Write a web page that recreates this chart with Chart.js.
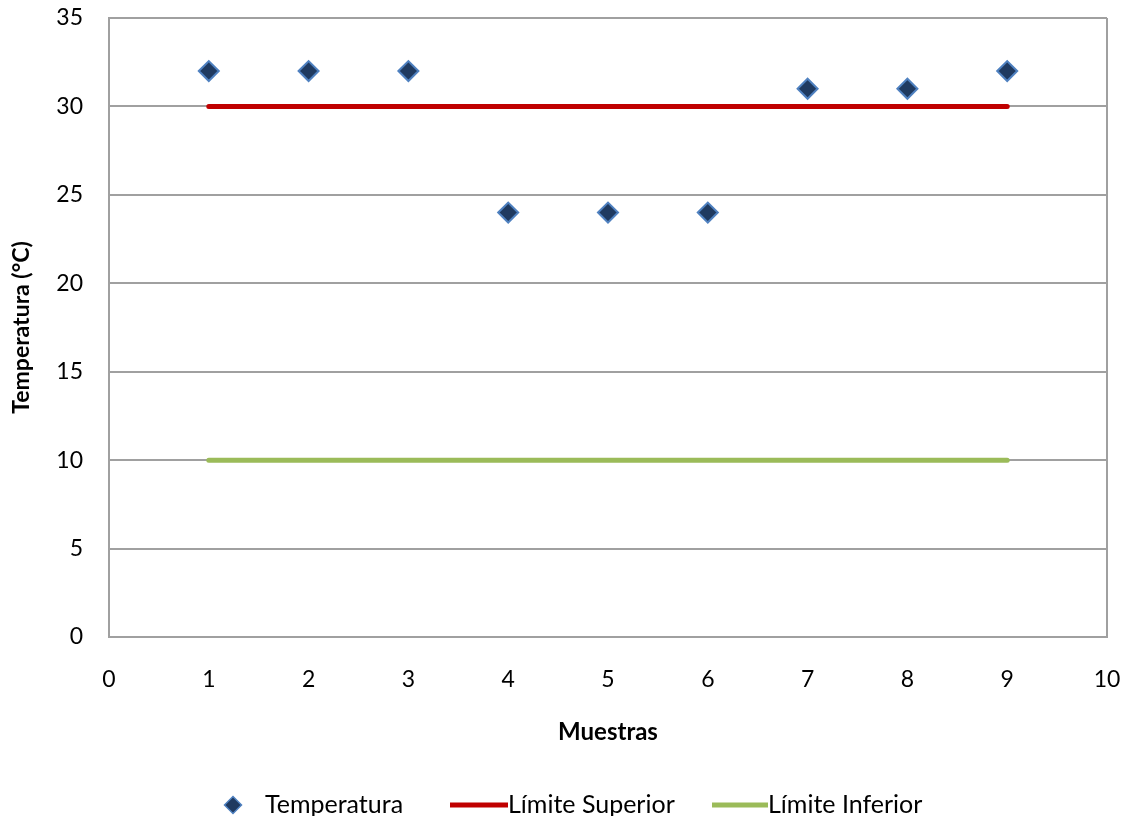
<!DOCTYPE html>
<html>
<head>
<meta charset="utf-8">
<script src="https://cdn.jsdelivr.net/npm/chart.js@4"></script>
<style>
  html, body { margin: 0; padding: 0; background: #ffffff; }
  #wrap { width: 1125px; height: 816px; }
</style>
</head>
<body>
<div id="wrap"><canvas id="chart" width="1125" height="816"></canvas></div>
<script>
// Temperature samples against upper and lower limits
const muestras = [1, 2, 3, 4, 5, 6, 7, 8, 9];
const temperatura = [32, 32, 32, 24, 24, 24, 31, 31, 32];
const limiteX = [1, 9];
const limiteSuperior = [30, 30];
const limiteInferior = [10, 10];
const xTicks = [0, 1, 2, 3, 4, 5, 6, 7, 8, 9, 10];
const yTicks = [0, 5, 10, 15, 20, 25, 30, 35];

const FONT = 'Lato, "Open Sans", sans-serif';
const COLORS = {
  markerFill: '#1F3A60',
  markerBorder: '#4F81C0',
  superior: '#C00000',
  inferior: '#9BBB59',
  grid: '#A0A0A0',
  text: '#000000'
};

const toPoints = (xs, ys) => xs.map((x, i) => ({ x, y: ys[i] }));

// Legend drawn below the axis title
const bottomLegend = {
  id: 'bottomLegend',
  afterDraw(chart) {
    const ctx = chart.ctx;
    const y = 805;
    ctx.save();
    ctx.font = '25px ' + FONT;
    ctx.textBaseline = 'middle';
    ctx.textAlign = 'left';

    // Temperatura
    ctx.fillStyle = COLORS.markerFill;
    ctx.strokeStyle = COLORS.markerBorder;
    ctx.lineWidth = 1.5;
    Chart.helpers.drawPoint(ctx, { pointStyle: 'rectRot', radius: 8.5, rotation: 0, borderWidth: 1.5 }, 233, y);
    ctx.fillStyle = COLORS.text;
    ctx.fillText('Temperatura', 265, y);

    // Límite Superior
    ctx.lineCap = 'butt';
    ctx.lineWidth = 5;
    ctx.strokeStyle = COLORS.superior;
    ctx.beginPath(); ctx.moveTo(450, y); ctx.lineTo(508, y); ctx.stroke();
    ctx.fillText('Límite Superior', 508, y);

    // Límite Inferior
    ctx.strokeStyle = COLORS.inferior;
    ctx.beginPath(); ctx.moveTo(712, y); ctx.lineTo(768, y); ctx.stroke();
    ctx.fillText('Límite Inferior', 768, y);
    ctx.restore();
  }
};

new Chart(document.getElementById('chart'), {
  type: 'scatter',
  data: {
    datasets: [
      {
        label: 'Temperatura',
        data: toPoints(muestras, temperatura),
        pointStyle: 'rectRot',
        pointRadius: 10,
        pointHoverRadius: 10,
        backgroundColor: COLORS.markerFill,
        borderColor: COLORS.markerBorder,
        pointBorderWidth: 2
      },
      {
        label: 'Límite Superior',
        data: toPoints(limiteX, limiteSuperior),
        showLine: true,
        borderColor: COLORS.superior,
        backgroundColor: COLORS.superior,
        borderWidth: 5,
        borderCapStyle: 'round',
        pointRadius: 0,
        pointHoverRadius: 0
      },
      {
        label: 'Límite Inferior',
        data: toPoints(limiteX, limiteInferior),
        showLine: true,
        borderColor: COLORS.inferior,
        backgroundColor: COLORS.inferior,
        borderWidth: 5,
        borderCapStyle: 'round',
        pointRadius: 0,
        pointHoverRadius: 0
      }
    ]
  },
  options: {
    responsive: false,
    animation: false,
    layout: { padding: { left: 0, top: 18, right: 18, bottom: 60 } },
    plugins: {
      legend: { display: false },
      tooltip: { enabled: false }
    },
    scales: {
      x: {
        type: 'linear',
        min: 0,
        max: 10,
        afterBuildTicks: (scale) => { scale.ticks = xTicks.map(v => ({ value: v })); },
        afterFit: (scale) => {
          scale.height = 119;
          scale.paddingLeft = 0;
          scale.paddingRight = 0;
        },
        ticks: {
          color: COLORS.text,
          font: { family: FONT, size: 23 },
          padding: 29,
          maxRotation: 0
        },
        grid: {
          drawTicks: false,
          lineWidth: 2,
          color: (c) => (c.tick && c.tick.value === 10 ? COLORS.grid : 'rgba(0,0,0,0)')
        },
        border: { display: true, color: COLORS.grid, width: 2 },
        title: {
          display: true,
          text: 'Muestras',
          color: COLORS.text,
          font: { family: FONT, size: 24, weight: 'bold' },
          padding: { top: 0, bottom: 9 }
        }
      },
      y: {
        type: 'linear',
        min: 0,
        max: 35,
        afterBuildTicks: (scale) => { scale.ticks = yTicks.map(v => ({ value: v })); },
        afterFit: (scale) => {
          scale.width = 109;
          scale.paddingTop = 0;
          scale.paddingBottom = 0;
        },
        ticks: {
          color: COLORS.text,
          font: { family: FONT, size: 23 },
          padding: 26
        },
        grid: {
          drawTicks: false,
          lineWidth: 2,
          color: COLORS.grid
        },
        border: { display: true, color: COLORS.grid, width: 2 },
        title: {
          display: true,
          text: 'Temperatura (°C)',
          color: COLORS.text,
          font: { family: FONT, size: 23, weight: 'bold' },
          padding: { top: 8, bottom: 0 }
        }
      }
    }
  },
  plugins: [bottomLegend]
});
</script>
</body>
</html>
